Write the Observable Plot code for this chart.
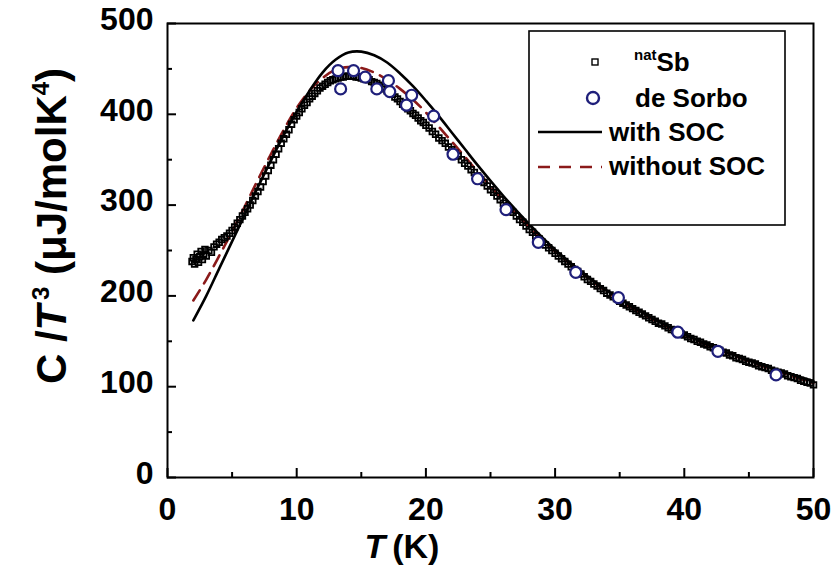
<!DOCTYPE html>
<html>
<head>
<meta charset="utf-8">
<script src="https://cdn.jsdelivr.net/npm/d3@7"></script>
<script src="https://cdn.jsdelivr.net/npm/@observablehq/plot@0.6"></script>
<style>
  html, body { margin: 0; padding: 0; background: white; }
  #chart svg { display: block; }
</style>
</head>
<body>
<div id="chart"></div>
<script>
// natSb measured data: [T (K), C/T^3 (µJ/molK^4)]
const sbPoints = [
  [1.9,238],[2.0,242],[2.1,235],[2.2,240],[2.3,246],[2.4,237],[2.5,243],[2.6,249],[2.7,240],[2.8,245],[2.9,251],[3.0,244],
  [3.2,250],[3.4,248],[3.6,254],[3.8,257],[4.0,259],[4.2,262],[4.4,264],[4.6,266],[4.8,269],[5.0,272],[5.2,276],[5.4,280],
  [5.6,284],[5.8,288],[6.0,292],[6.2,296],[6.4,300],[6.6,305],[6.8,310],[7.0,315],[7.2,320],[7.4,326],[7.6,332],[7.8,338],
  [8.0,344],[8.2,350],[8.4,356],[8.6,362],[8.8,368],[9.0,373],[9.2,378],[9.4,383],[9.6,389],[9.8,394],[10.0,398],
  [10.2,402],[10.4,406],[10.6,410],[10.8,413],[11.0,417],[11.2,420],[11.4,423],[11.6,426],[11.8,429],[12.0,431],
  [12.2,433],[12.4,435],[12.6,437],[12.8,438],[13.0,439],[13.2,440],[13.4,441],[13.6,441],[13.8,442],[14.0,442],
  [14.2,442],[14.4,442],[14.6,441],[14.8,441],[15.0,440],[15.2,439],[15.4,439],[15.6,438],[15.8,436],[16.0,435],
  [16.2,434],[16.4,432],[16.6,430],[16.8,428],[17.0,426],[17.2,424],[17.4,422],[17.6,419],[17.8,417],[18.0,414],
  [18.2,411],[18.4,409],[18.6,406],[18.8,404],[19.0,401],[19.2,399],[19.4,396],[19.6,393],[19.8,391],
  [20.0,388],[20.25,385],[20.5,381],[20.75,378],[21.0,374],[21.25,371],[21.5,368],[21.75,364],[22.0,361],[22.25,357],
  [22.5,354],[22.75,350],[23.0,346],[23.25,343],[23.5,339],[23.75,336],[24.0,332],[24.25,328],[24.5,325],[24.75,321],
  [25.0,317],[25.25,314],[25.5,310],[25.75,306],[26.0,302],[26.25,299],[26.5,295],[26.75,292],[27.0,288],[27.25,284],
  [27.5,281],[27.75,277],[28.0,273],[28.25,270],[28.5,266],[28.75,263],[29.0,259],[29.25,256],[29.5,253],[29.75,250],
  [30.0,247],[30.25,244],[30.5,241],[30.75,238],[31.0,235],[31.25,232],[31.5,229],[31.75,227],[32.0,224],[32.25,221],
  [32.5,218],[32.75,216],[33.0,213],[33.25,211],[33.5,208],[33.75,206],[34.0,203],[34.25,201],[34.5,199],[34.75,197],
  [35.0,194],[35.25,192],[35.5,190],[35.75,188],[36.0,186],[36.25,184],[36.5,182],[36.75,180],[37.0,178],[37.25,176],
  [37.5,174],[37.75,172],[38.0,170],[38.25,169],[38.5,167],[38.75,165],[39.0,163],[39.25,162],[39.5,160],[39.75,158],
  [40.0,157],[40.25,155],[40.5,153],[40.75,152],[41.0,150],[41.25,149],[41.5,147],[41.75,146],[42.0,144],[42.25,143],
  [42.5,141],[42.75,140],[43.0,138],[43.25,137],[43.5,135],[43.75,134],[44.0,132],[44.25,131],[44.5,130],[44.75,128],
  [45.0,127],[45.25,126],[45.5,125],[45.75,123],[46.0,122],[46.25,121],[46.5,120],[46.75,118],[47.0,117],[47.25,116],
  [47.5,115],[47.75,114],[48.0,112],[48.25,111],[48.5,110],[48.75,109],[49.0,107],[49.25,106],[49.5,105],[49.75,104],
  [50.0,102]
];

// de Sorbo data
const dsT = [13.2,13.4,14.4,15.3,16.2,17.1,17.2,18.5,18.9,20.6,22.1,24.0,26.2,28.7,31.6,34.9,39.5,42.6,47.1];
const dsC = [448,428,448,441,428,437,425,410,421,398,356,329,295,259,226,198,160,139,113];

// calculation with SOC
const socT = [2,3,4,5,6,7,8,9,10,11,12,13,14,15,16,17,18,19,20,21,22,23,24,26,28,30,32,34,36,38,40,42,44,46,48,50];
const socC = [173,200,230,260,290,320,349,377,403,426,446,460,468,469,465,457,445,431,415,398,380,362,344,310,279,251,227,206,188,172,158,145,134,124,115,106];

// calculation without SOC
const nosocT = [2,3,4,5,6,7,8,9,10,11,12,13,14,15,16,17,18,19,20,22,24,26,28,30,35,40,45,50];
const nosocC = [195,218,244,271,299,328,356,383,407,426,440,449,452,451,446,438,428,416,402,370,337,305,276,249,195,157,128,104];

// axis ticks
const xMajor = [0,10,20,30,40,50];
const xMinor = [5,15,25,35,45];
const yMajor = [0,100,200,300,400,500];
const yMinor = [50,150,250,350,450];

const sb = sbPoints.map(([t, c]) => ({T: t, C: c}));
const ds = dsT.map((t,i) => ({T: t, C: dsC[i]}));
const soc = socT.map((t,i) => ({T: t, C: socC[i]}));
const nosoc = nosocT.map((t,i) => ({T: t, C: nosocC[i]}));

const FONT = "'Liberation Sans', Arial, Helvetica, sans-serif";

const chart = Plot.plot({
  width: 834,
  height: 574,
  marginLeft: 167,
  marginRight: 21,
  marginTop: 23,
  marginBottom: 97,
  x: {domain: [0, 50]},
  y: {domain: [0, 500]},
  style: {fontFamily: FONT, background: "white", color: "black", overflow: "visible"},
  marks: [
    Plot.line(nosoc, {x: "T", y: "C", curve: "catmull-rom", stroke: "#8b1a1a", strokeWidth: 2.6, strokeDasharray: "12,8"}),
    Plot.dot(sb, {x: "T", y: "C", symbol: "square", r: 3.2, stroke: "black", strokeWidth: 1.8, fill: "none"}),
    Plot.line(soc, {x: "T", y: "C", curve: "catmull-rom", stroke: "black", strokeWidth: 2.6}),
    Plot.dot(ds, {x: "T", y: "C", r: 5.5, stroke: "#1f1f7a", strokeWidth: 2.2, fill: "white"}),
    Plot.frame({stroke: "black", strokeWidth: 2}),
    Plot.axisX(xMajor, {tickSize: -9, strokeWidth: 2, fill: "none", label: null}),
    Plot.axisX(xMinor, {tickSize: -5, strokeWidth: 2, fill: "none", label: null}),
    Plot.axisY(yMajor, {tickSize: -9, strokeWidth: 2, fill: "none", label: null}),
    Plot.axisY(yMinor, {tickSize: -5, strokeWidth: 2, fill: "none", label: null}),
    Plot.axisX(xMajor, {tickSize: 0, tickPadding: 20, fontSize: 32, fontWeight: "bold", label: null}),
    Plot.axisY(yMajor, {tickSize: 0, tickPadding: 14, fontSize: 32, fontWeight: "bold", dy: -4, label: null})
  ]
});

document.getElementById("chart").appendChild(chart);

// axis titles and legend
const svg = d3.select(chart);
const g = svg.append("g").attr("font-family", FONT).attr("fill", "black").attr("text-anchor", "start");

// x title
const xt = g.append("text").attr("x", 402).attr("y", 558).attr("text-anchor", "middle")
  .attr("font-size", 34).attr("font-weight", "bold");
xt.append("tspan").attr("font-style", "italic").text("T");
xt.append("tspan").text("\u2009(K)");

// y title
const yt = g.append("text").attr("transform", "translate(66,226) rotate(-90)")
  .attr("text-anchor", "middle").attr("font-size", 42).attr("font-weight", "bold");
yt.append("tspan").text("C /");
yt.append("tspan").attr("font-style", "italic").text("T");
yt.append("tspan").attr("dy", -17).attr("font-size", 24).text("\u20093");
yt.append("tspan").attr("dy", 17).text(" (\u03bcJ/molK");
yt.append("tspan").attr("dy", -17).attr("font-size", 24).text("4");
yt.append("tspan").attr("dy", 17).text(")");

// legend
const lg = g.append("g");
lg.append("rect").attr("x", 529).attr("y", 31).attr("width", 256).attr("height", 194)
  .attr("fill", "white").attr("stroke", "black").attr("stroke-width", 1.6);
lg.append("rect").attr("x", 592).attr("y", 59).attr("width", 6).attr("height", 6)
  .attr("fill", "white").attr("stroke", "black").attr("stroke-width", 1.4);
const t1 = lg.append("text").attr("x", 634).attr("y", 71).attr("font-size", 26).attr("font-weight", "bold");
t1.append("tspan").attr("font-size", 15).attr("dy", -11).text("nat");
t1.append("tspan").attr("dy", 11).text("Sb");
lg.append("circle").attr("cx", 593).attr("cy", 98).attr("r", 6)
  .attr("fill", "white").attr("stroke", "#1f1f7a").attr("stroke-width", 2.4);
lg.append("text").attr("x", 635).attr("y", 107).attr("font-size", 26).attr("font-weight", "bold").text("de Sorbo");
lg.append("line").attr("x1", 538).attr("x2", 602).attr("y1", 132).attr("y2", 132)
  .attr("stroke", "black").attr("stroke-width", 2.6);
lg.append("text").attr("x", 609).attr("y", 141).attr("font-size", 26).attr("font-weight", "bold").text("with SOC");
lg.append("line").attr("x1", 538).attr("x2", 602).attr("y1", 167).attr("y2", 167)
  .attr("stroke", "#8b1a1a").attr("stroke-width", 2.6).attr("stroke-dasharray", "12,9");
lg.append("text").attr("x", 609).attr("y", 175).attr("font-size", 26).attr("font-weight", "bold").text("without SOC");
</script>
</body>
</html>
